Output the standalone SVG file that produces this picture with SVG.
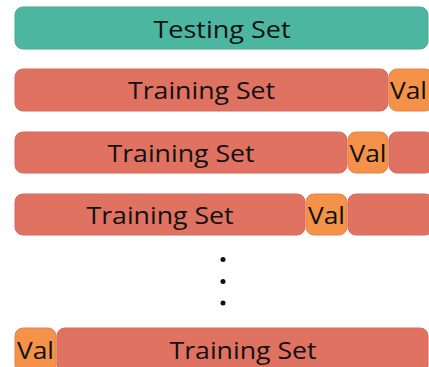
<svg xmlns="http://www.w3.org/2000/svg" width="429" height="367" viewBox="0 0 429 367">
<style>
.test{fill:#4db6a0;stroke:#47ab95;stroke-width:1}
.train{fill:#e07262;stroke:#d8685a;stroke-width:1}
.val{fill:#f39248;stroke:#e8804a;stroke-width:1}
text{font-family:"Open Sans","Liberation Sans",sans-serif;font-size:23px;fill:#111;text-anchor:middle}
.dot{fill:#111}
</style>
<rect width="429" height="367" fill="#fff"/>
<g id="testing"><rect class="test" x="15" y="7" width="413" height="42" rx="8"/><text x="222" y="38" textLength="137" lengthAdjust="spacingAndGlyphs">Testing Set</text></g>
<g id="fold1">
<rect class="train" x="15" y="69" width="373" height="42" rx="8"/><text x="201.5" y="99" textLength="147" lengthAdjust="spacingAndGlyphs">Training Set</text>
<rect class="val" x="389" y="69" width="44" height="42" rx="8"/><text x="408.5" y="99" textLength="37" lengthAdjust="spacingAndGlyphs">Val</text>
</g>
<g id="fold2">
<rect class="train" x="15" y="132" width="332" height="41" rx="8"/><text x="181" y="162" textLength="147" lengthAdjust="spacingAndGlyphs">Training Set</text>
<rect class="val" x="348" y="132" width="40" height="41" rx="8"/><text x="368" y="162" textLength="37" lengthAdjust="spacingAndGlyphs">Val</text>
<rect class="train" x="389" y="132" width="44" height="41" rx="8"/>
</g>
<g id="fold3">
<rect class="train" x="15" y="194" width="290" height="41" rx="8"/><text x="160" y="224" textLength="147" lengthAdjust="spacingAndGlyphs">Training Set</text>
<rect class="val" x="306" y="194" width="41" height="41" rx="8"/><text x="326.5" y="224" textLength="37" lengthAdjust="spacingAndGlyphs">Val</text>
<rect class="train" x="348" y="194" width="85" height="41" rx="8"/>
</g>
<g id="ellipsis"><circle class="dot" cx="223" cy="259.5" r="2.5"/><circle class="dot" cx="223" cy="281.5" r="2.5"/><circle class="dot" cx="223" cy="303" r="2.5"/></g>
<g id="foldk">
<rect class="val" x="15" y="328" width="41" height="45" rx="8"/><text x="35.5" y="359" textLength="37" lengthAdjust="spacingAndGlyphs">Val</text>
<rect class="train" x="57" y="328" width="371" height="45" rx="8"/><text x="243" y="359" textLength="147" lengthAdjust="spacingAndGlyphs">Training Set</text>
</g>
<g id="connectors"/>
</svg>
